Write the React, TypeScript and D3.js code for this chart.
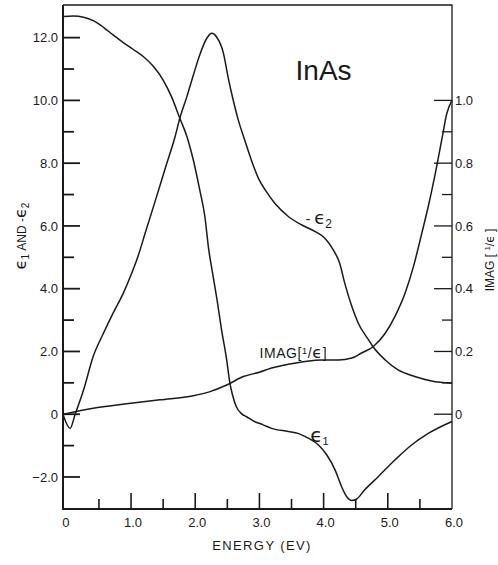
import React, { useEffect, useRef } from "react";
import * as d3 from "d3";

// eps1 (left axis)
const eps1Energy = [-0.06, 0.1, 0.26, 0.41, 0.57, 0.72, 0.88, 1.03, 1.19, 1.35, 1.5, 1.63, 1.76, 1.87, 1.97, 2.07, 2.15, 2.21, 2.27, 2.34, 2.41, 2.49, 2.54, 2.58, 2.64, 2.72, 2.8, 2.93, 3.05, 3.19, 3.45, 3.6, 3.76, 3.92, 4.05, 4.18, 4.28, 4.36, 4.44, 4.51, 4.64, 4.85, 5.11, 5.37, 5.63, 6.0];
const eps1 = [12.67, 12.69, 12.65, 12.54, 12.33, 12.09, 11.84, 11.63, 11.4, 11.08, 10.65, 10.12, 9.43, 8.85, 8.1, 7.15, 6.3, 5.25, 4.5, 3.64, 2.69, 1.73, 0.99, 0.62, 0.24, 0.02, -0.08, -0.24, -0.33, -0.45, -0.55, -0.61, -0.76, -0.98, -1.3, -1.78, -2.31, -2.63, -2.75, -2.71, -2.41, -1.99, -1.46, -0.98, -0.61, -0.23];

// -eps2 (left axis)
const negEps2Energy = [-0.06, 0.05, 0.13, 0.26, 0.41, 0.57, 0.72, 0.88, 1.01, 1.09, 1.24, 1.4, 1.55, 1.68, 1.76, 1.87, 1.97, 2.07, 2.18, 2.26, 2.33, 2.44, 2.51, 2.59, 2.67, 2.77, 2.9, 3.0, 3.09, 3.24, 3.45, 3.66, 3.87, 4.02, 4.15, 4.25, 4.33, 4.44, 4.54, 4.7, 4.77, 4.96, 5.16, 5.42, 5.68, 6.0];
const negEps2 = [0, -0.45, 0, 0.77, 1.84, 2.58, 3.22, 3.86, 4.49, 4.92, 5.9, 6.95, 7.95, 8.8, 9.43, 10.12, 10.8, 11.45, 11.98, 12.14, 12.03, 11.5, 10.76, 10.02, 9.38, 8.74, 7.95, 7.45, 7.15, 6.72, 6.3, 6.03, 5.82, 5.61, 5.24, 4.81, 4.17, 3.43, 2.9, 2.37, 2.15, 1.73, 1.41, 1.2, 1.06, 0.99];

// Imag[1/eps] (right axis)
const imagEnergy = [-0.05, 0.41, 0.93, 1.45, 1.97, 2.23, 2.49, 2.75, 3.0, 3.19, 3.45, 3.71, 3.97, 4.23, 4.44, 4.59, 4.77, 4.96, 5.11, 5.27, 5.4, 5.53, 5.63, 5.73, 5.84, 5.92, 6.0];
const imagInvEps = [0, 0.019, 0.033, 0.046, 0.059, 0.072, 0.093, 0.12, 0.134, 0.147, 0.159, 0.168, 0.173, 0.173, 0.179, 0.195, 0.215, 0.258, 0.311, 0.386, 0.471, 0.577, 0.662, 0.757, 0.874, 0.959, 1.0];

const energyTicks = [0, 0.5, 1, 1.5, 2, 2.5, 3, 3.5, 4, 4.5, 5, 5.5, 6];
const leftTicks = [-2, -1, 0, 1, 2, 3, 4, 5, 6, 7, 8, 9, 10, 11, 12];
const rightTicks = [0, 0.1, 0.2, 0.3, 0.4, 0.5, 0.6, 0.7, 0.8, 0.9, 1.0];

const EPS = "\u03f5";

function InAsChart() {
  const svgRef = useRef<SVGSVGElement>(null);

  useEffect(() => {
    document.body.style.margin = "0";
    const svg = d3.select(svgRef.current);
    svg.selectAll("*").remove();

    const left = 63;
    const right = 452;
    const top = 5;
    const bottom = 509;
    const ink = "#1a1a1a";
    const font = "'Liberation Sans', Arial, sans-serif";
    const epsFont = "'DejaVu Sans', sans-serif";

    const x = d3.scaleLinear().domain([-0.06, 6]).range([left, right]);
    const yL = d3.scaleLinear().domain([-3.02, 13.04]).range([bottom, top]);
    const yR = d3.scaleLinear().domain([-0.302, 1.304]).range([bottom, top]);

    const g = svg.append("g").attr("font-family", font).attr("fill", ink);

    // frame: thin top/right, heavier left/bottom
    g.append("path")
      .attr("d", `M${left},${top}H${right}V${bottom}`)
      .attr("fill", "none")
      .attr("stroke", ink)
      .attr("stroke-width", 1.3);
    g.append("path")
      .attr("d", `M${left},${top}V${bottom}H${right}`)
      .attr("fill", "none")
      .attr("stroke", ink)
      .attr("stroke-width", 2);

    // left ticks
    g.selectAll("line.lt")
      .data(leftTicks)
      .enter()
      .append("line")
      .attr("class", "lt")
      .attr("x1", left)
      .attr("x2", d => left + (d % 2 === 0 ? 17 : 11))
      .attr("y1", d => yL(d))
      .attr("y2", d => yL(d))
      .attr("stroke", ink)
      .attr("stroke-width", 1.8);

    g.selectAll("text.ll")
      .data(leftTicks.filter(d => d % 2 === 0))
      .enter()
      .append("text")
      .attr("class", "ll")
      .attr("x", left - 5)
      .attr("y", d => yL(d))
      .attr("dy", "0.36em")
      .attr("text-anchor", "end")
      .attr("font-size", 13)
      .text(d => (d === 0 ? "0" : d3.format(".1f")(d)));

    // right ticks
    g.selectAll("line.rt")
      .data(rightTicks)
      .enter()
      .append("line")
      .attr("class", "rt")
      .attr("x1", (d, i) => right - (i % 2 === 0 ? 18 : 10))
      .attr("x2", right)
      .attr("y1", d => yR(d))
      .attr("y2", d => yR(d))
      .attr("stroke", ink)
      .attr("stroke-width", 1.3);

    g.selectAll("text.rl")
      .data(rightTicks.filter((d, i) => i % 2 === 0))
      .enter()
      .append("text")
      .attr("class", "rl")
      .attr("x", right + 3)
      .attr("y", d => yR(d))
      .attr("dy", "0.36em")
      .attr("font-size", 13)
      .text(d => (d === 0 ? "0" : d3.format(".1f")(d)));

    // bottom ticks
    g.selectAll("line.bt")
      .data(energyTicks.filter(d => d > 0 && d < 6))
      .enter()
      .append("line")
      .attr("class", "bt")
      .attr("x1", d => x(d))
      .attr("x2", d => x(d))
      .attr("y1", bottom)
      .attr("y2", d => bottom - (Number.isInteger(d) ? 16 : 10))
      .attr("stroke", ink)
      .attr("stroke-width", 1.6);

    g.selectAll("text.bl")
      .data(energyTicks.filter(d => Number.isInteger(d)))
      .enter()
      .append("text")
      .attr("class", "bl")
      .attr("x", d => x(d) + (d === 0 ? -1 : 2))
      .attr("y", bottom + 18)
      .attr("text-anchor", "middle")
      .attr("font-size", 13)
      .text(d => (d === 0 ? "0" : d3.format(".1f")(d)));

    g.append("text")
      .attr("x", 262)
      .attr("y", 550)
      .attr("text-anchor", "middle")
      .attr("font-size", 13)
      .attr("letter-spacing", 1.4)
      .text("ENERGY (EV)");

    // left axis title
    const lt = g
      .append("text")
      .attr("transform", "translate(26,236) rotate(-90)")
      .attr("text-anchor", "middle")
      .attr("font-size", 12);
    lt.append("tspan").attr("font-family", epsFont).attr("font-size", 16).text(EPS);
    lt.append("tspan").attr("dy", 3).attr("font-size", 10).text("1");
    lt.append("tspan").attr("dy", -3).text(" AND -");
    lt.append("tspan").attr("font-family", epsFont).attr("font-size", 16).text(EPS);
    lt.append("tspan").attr("dy", 3).attr("font-size", 10).text("2");

    // right axis title
    const rt = g
      .append("text")
      .attr("transform", "translate(494,260) rotate(-90)")
      .attr("text-anchor", "middle")
      .attr("font-size", 12);
    rt.append("tspan").text("IMAG  [ ");
    rt.append("tspan").attr("dy", -4).attr("font-size", 8).text("1");
    rt.append("tspan").attr("dy", 4).text("/");
    rt.append("tspan").attr("font-family", epsFont).text(EPS);
    rt.append("tspan").text(" ]");

    // curves
    const line = d3
      .line<[number, number]>()
      .x(d => x(d[0]))
      .curve(d3.curveMonotoneX);

    const series = [
      { e: eps1Energy, v: eps1, y: yL },
      { e: negEps2Energy, v: negEps2, y: yL },
      { e: imagEnergy, v: imagInvEps, y: yR }
    ];

    series.forEach(s => {
      g.append("path")
        .datum(s.e.map((e, i) => [e, s.v[i]] as [number, number]))
        .attr("fill", "none")
        .attr("stroke", ink)
        .attr("stroke-width", 1.5)
        .attr("d", line.y(d => s.y(d[1])));
    });

    // annotations
    g.append("text")
      .attr("x", x(4.0))
      .attr("y", yL(10.65))
      .attr("text-anchor", "middle")
      .attr("font-size", 28)
      .text("InAs");

    const e2 = g.append("text").attr("x", x(3.72)).attr("y", yL(6.05)).attr("font-size", 14);
    e2.append("tspan").text("- ");
    e2.append("tspan").attr("font-family", epsFont).attr("font-size", 18).text(EPS);
    e2.append("tspan").attr("dy", 4).attr("font-size", 12).text("2");

    const im = g
      .append("text")
      .attr("x", x(3.0))
      .attr("y", yL(1.8))
      .attr("font-size", 14)
      .attr("letter-spacing", 0.6);
    im.append("tspan").text("IMAG[");
    im.append("tspan").attr("dy", -4).attr("font-size", 9).text("1");
    im.append("tspan").attr("dy", 4).text("/");
    im.append("tspan").attr("font-family", epsFont).attr("font-size", 16).text(EPS);
    im.append("tspan").text("]");

    const e1 = g.append("text").attr("x", x(3.79)).attr("y", yL(-0.9)).attr("font-size", 14);
    e1.append("tspan").attr("font-family", epsFont).attr("font-size", 20).text(EPS);
    e1.append("tspan").attr("dy", 3).attr("font-size", 11).text("1");
  }, []);

  return <svg ref={svgRef} width={498} height={565} style={{ display: "block", background: "#fff" }} />;
}

export default function App() {
  return <InAsChart />;
}
